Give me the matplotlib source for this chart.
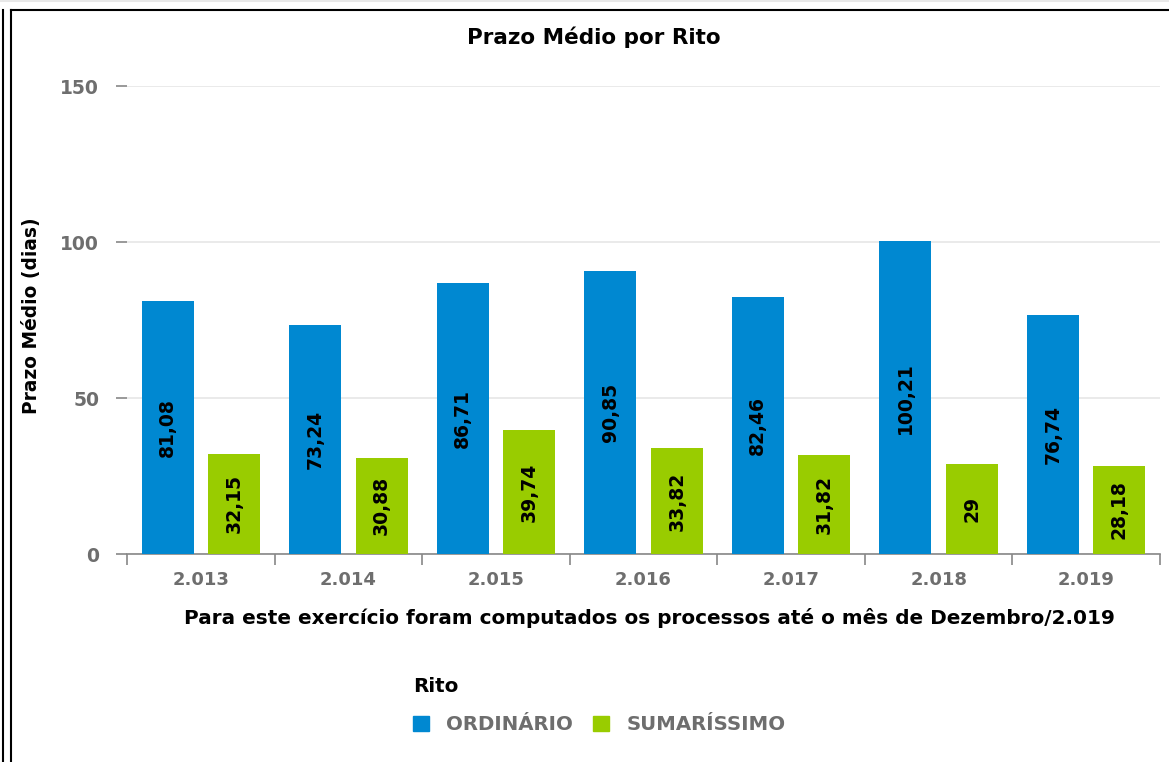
import matplotlib
matplotlib.use("Agg")
import matplotlib.pyplot as plt
from matplotlib.lines import Line2D
from matplotlib.patches import Patch
import numpy as np

anos = ["2.013", "2.014", "2.015", "2.016", "2.017", "2.018", "2.019"]
ordinario = [81.08, 73.24, 86.71, 90.85, 82.46, 100.21, 76.74]
sumarissimo = [32.15, 30.88, 39.74, 33.82, 31.82, 29, 28.18]
y_ticks = [0, 50, 100, 150]

azul = "#0088D1"
verde = "#99CC00"
cinza = "#6E6E6E"

plt.rcParams['font.family'] = 'DejaVu Sans'

W, H = 1169, 762
fig = plt.figure(figsize=(W / 100, H / 100), dpi=100)
ax = fig.add_axes([127 / W, 1 - 554 / H, (1160 - 127) / W, (554 - 86) / H])

x = np.arange(len(anos))
bw = 0.353
off = 0.225
b1 = ax.bar(x - off, ordinario, bw, color=azul, zorder=3)
b2 = ax.bar(x + off, sumarissimo, bw, color=verde, zorder=3)


def fmt(v):
    s = f"{v:.2f}".rstrip("0").rstrip(".")
    return s.replace(".", ",")


for bars, vals in ((b1, ordinario), (b2, sumarissimo)):
    for r, v in zip(bars, vals):
        ax.text(r.get_x() + r.get_width() / 2, v / 2, fmt(v), rotation=90,
                ha="center", va="center", fontsize=13.5, fontweight="bold",
                color="black", zorder=4)

ax.set_xlim(-0.5, len(anos) - 0.5)
ax.set_ylim(0, 150)
ax.set_yticks(y_ticks)
ax.set_yticklabels([str(t) for t in y_ticks])
ax.set_xticks(x)
ax.set_xticklabels(anos)
ax.set_xticks(np.arange(len(anos) + 1) - 0.5, minor=True)

ax.grid(axis="y", color="#E6E6E6", linewidth=1.2, zorder=0)
for s in ("top", "right", "left"):
    ax.spines[s].set_visible(False)
ax.spines["bottom"].set_color("#888888")
ax.spines["bottom"].set_linewidth(1.2)

ax.tick_params(axis="y", length=8, width=1.2, color="#888888", pad=12,
               labelsize=13.5, labelcolor=cinza)
ax.tick_params(axis="x", which="major", length=0, pad=12, labelsize=13,
               labelcolor=cinza)
ax.tick_params(axis="x", which="minor", length=8, width=1.2, color="#888888")
for lb in ax.get_xticklabels() + ax.get_yticklabels():
    lb.set_fontweight("bold")

fig.text(594 / W, 1 - 37 / H, "Prazo Médio por Rito", ha="center", va="center",
         fontsize=15.5, fontweight="bold")
fig.text(32 / W, 1 - 316 / H, "Prazo Médio (dias)", ha="center", va="center",
         rotation=90, fontsize=13.4, fontweight="bold")
fig.text(649 / W, 1 - 618 / H,
         "Para este exercício foram computados os processos até o mês de Dezembro/2.019",
         ha="center", va="center", fontsize=14.4, fontweight="bold")

handles = [Patch(color=azul), Patch(color=verde)]
leg = fig.legend(handles, ["ORDINÁRIO", "SUMARÍSSIMO"], title="Rito",
                 loc="upper left", bbox_to_anchor=(395 / W, 1 - 659 / H),
                 ncol=2, frameon=False, alignment="left", handlelength=0.8,
                 handleheight=0.8, handletextpad=0.9, columnspacing=1.0,
                 prop={"size": 14.2, "weight": "bold"}, labelcolor=cinza,
                 title_fontproperties={"size": 14.3, "weight": "bold"})
leg._legend_box.sep = 14

# moldura da pagina
fig.add_artist(Line2D([0, 1], [1 - 1 / H, 1 - 1 / H], color="#E8E8E8", lw=1.5))
fig.add_artist(Line2D([3 / W, 3 / W], [0, 1 - 10 / H], color="black", lw=1.5))
fig.add_artist(Line2D([11 / W, 11 / W], [0, 1 - 10 / H], color="black", lw=1.5))
fig.add_artist(Line2D([11 / W, 1], [1 - 10 / H, 1 - 10 / H], color="black", lw=1.5))

fig.savefig("out.png", dpi=100)
